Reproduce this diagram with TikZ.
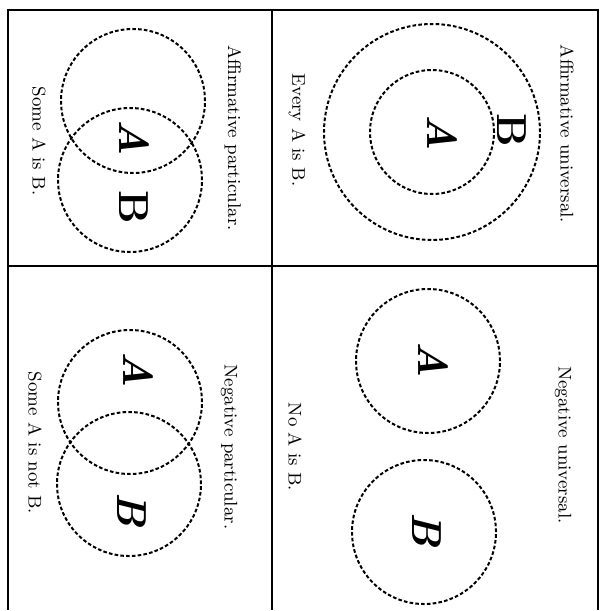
\documentclass[tikz,border=0pt]{standalone}
\usepackage{tikz}
\usetikzlibrary{positioning,calc}

\begin{document}
\begin{tikzpicture}[
  x=0.5pt, y=-0.5pt,
  ring/.style={circle, draw, line width=1pt, dash pattern=on 1.8pt off 1.1pt, inner sep=0pt, minimum size=72pt},
  rule/.style={line width=1pt},
  caption/.style={font=\fontsize{9.2}{11}\selectfont, rotate=-90, inner sep=0pt},
  letter/.style={font=\fontsize{21}{24}\selectfont\bfseries, rotate=-90, inner sep=0pt},
  slanted/.style={letter, font=\fontsize{21}{24}\selectfont\bfseries\itshape}]
\useasboundingbox (0,0) rectangle (613,610);
% frame, open at the foot
\coordinate (tl) at (8,10);
\coordinate (tr) at (598,10);
\coordinate (bl) at (8,610);
\coordinate (br) at (598,610);
\coordinate (mt) at (272,10);
\coordinate (mb) at (272,610);
\coordinate (ml) at (8,266);
\coordinate (mr) at (598,266);
\draw[rule] (bl) -- (tl) -- (tr) -- (br);
\draw[rule] (mt) -- (mb);
\draw[rule] (ml) -- (mr);

% affirmative universal
\node[ring, minimum size=108pt] (univB) at (432,132) {};
\node[ring, minimum size=62pt] (univA) at (432,132) {};
\node[slanted] (univAl) at (442,133) {A};
\node[letter] (univBl) at (512,130) {B};
\node[caption] (univName) at (567,134) {Affirmative universal.};
\node[caption] (univText) at (297,130) {Every A is B.};

% negative universal
\node[ring] (noA) at (428,361) {};
\node[ring] (noB) at (424,532) {};
\node[slanted] (noAl) at (433,360) {A};
\node[slanted] (noBl) at (427,530) {B};
\node[caption] (noName) at (563,445) {Negative universal.};
\node[caption] (noText) at (295,447) {No A is B.};

% affirmative particular
\node[ring] (someA) at (133,101) {};
\node[ring] (someB) at (130,180) {};
\node[slanted] (someAl) at (134,138) {A};
\node[letter] (someBl) at (134,207) {B};
\node[caption] (someName) at (233,138) {Affirmative particular.};
\node[caption] (someText) at (39,141) {Some A is B.};

% negative particular
\node[ring] (notA) at (130,402) {};
\node[ring] (notB) at (129,484) {};
\node[slanted] (notAl) at (138,370) {A};
\node[slanted] (notBl) at (132,510) {B};
\node[caption] (notName) at (229,447) {Negative particular.};
\node[caption] (notText) at (35,443) {Some A is not B.};
\end{tikzpicture}
\end{document}
